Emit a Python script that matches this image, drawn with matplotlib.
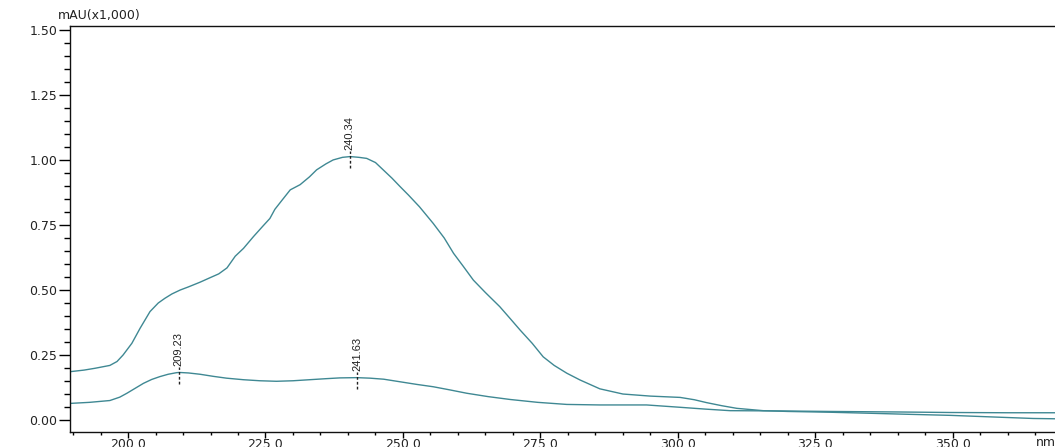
import numpy as np
import matplotlib
matplotlib.use('Agg')
import matplotlib.pyplot as plt
from matplotlib.ticker import MultipleLocator, FormatStrFormatter

# UV spectra, mAU (x1,000) vs wavelength (nm)
wl_upper = [189.5, 192, 194, 196.7, 198, 199.1, 200.7, 202.2, 204, 205.5, 206.7, 208,
            209.5, 211, 213.1, 215, 216.5, 218, 219.5, 221, 222.8, 224.5, 225.8, 226.7,
            228, 229.5, 231.3, 233, 234.3, 236, 237.3, 239, 240.4, 242, 243.4, 245,
            246.4, 248, 249.5, 251, 253, 255.5, 257.5, 259.2, 261, 262.8, 265, 267.6,
            269.5, 271.3, 273.5, 275.5, 277.5, 279.8, 282.2, 285.8, 290, 295, 300.4,
            303, 305.2, 308, 310.7, 315.5, 320, 327.6, 335, 342, 349.5, 357, 364.6, 371.5]
abs_upper = [0.186, 0.192, 0.199, 0.21, 0.225, 0.25, 0.295, 0.353, 0.417, 0.45, 0.468, 0.485,
             0.50, 0.512, 0.53, 0.548, 0.562, 0.585, 0.63, 0.66, 0.705, 0.745, 0.775, 0.81,
             0.845, 0.885, 0.905, 0.935, 0.962, 0.985, 1.0, 1.01, 1.013, 1.01, 1.006, 0.99,
             0.962, 0.93, 0.897, 0.865, 0.82, 0.756, 0.70, 0.641, 0.59, 0.538, 0.49, 0.436,
             0.39, 0.346, 0.295, 0.243, 0.21, 0.18, 0.154, 0.12, 0.10, 0.092, 0.087,
             0.078, 0.067, 0.055, 0.045, 0.036, 0.033, 0.030, 0.026, 0.022, 0.018, 0.012, 0.006, 0.004]

wl_lower = [189.5, 193, 196.7, 198.5, 199.8, 201.3, 202.8, 204.3, 205.8, 207.3, 208.8, 209.3,
            211, 213.1, 215.5, 217.9, 221, 224, 227, 230, 233, 236, 238.5, 241.6, 244,
            246.5, 249.5, 252.5, 255.5, 258.5, 261.6, 265.5, 269.5, 274.5, 279.8, 285.8,
            294.3, 300.4, 305, 309.5, 318.5, 327.6, 340, 349.5, 360, 371.5]
abs_lower = [0.064, 0.068, 0.075, 0.088, 0.103, 0.122, 0.141, 0.156, 0.167, 0.176, 0.182, 0.183,
             0.181, 0.176, 0.168, 0.161, 0.155, 0.151, 0.149, 0.151, 0.155, 0.159, 0.162, 0.163, 0.161,
             0.157, 0.147, 0.137, 0.128, 0.116, 0.103, 0.09, 0.079, 0.068, 0.060, 0.058,
             0.058, 0.049, 0.042, 0.036, 0.035, 0.033, 0.031, 0.029, 0.028, 0.028]

peaks_upper = [240.34]
peaks_lower = [209.23, 241.63]

line_color = '#3f8893'

W, H = 1055, 447
fig = plt.figure(figsize=(W / 100, H / 100), dpi=100, facecolor='w')
ax = fig.add_axes([70 / W, 15 / H, 1000 / W, 406 / H])

ax.plot(wl_upper, abs_upper, '-', color=line_color, lw=1.0)
ax.plot(wl_lower, abs_lower, '-', color=line_color, lw=1.0)

def mark_peaks(wl, ab, peaks):
    for p in peaks:
        yp = np.interp(p, wl, ab)
        ax.plot([p, p], [yp - 0.045, yp + 0.022], color='#222222', lw=1.0,
                ls=(0, (2, 1.5)))
        ax.text(p, yp + 0.024, f'{p:.2f}', rotation=90, ha='center', va='bottom',
                fontsize=8, family='Liberation Sans', color='#222222')

mark_peaks(wl_upper, abs_upper, peaks_upper)
mark_peaks(wl_lower, abs_lower, peaks_lower)

ax.set_xlim(189.45, 371.3)
ax.set_ylim(-0.046, 1.515)

ax.xaxis.set_minor_locator(MultipleLocator(5))
ax.yaxis.set_minor_locator(MultipleLocator(0.05))
ax.xaxis.set_major_formatter(FormatStrFormatter('%.1f'))
ax.yaxis.set_major_formatter(FormatStrFormatter('%.2f'))
ax.set_xticks(np.arange(200, 351, 25))
ax.set_yticks(np.arange(0, 1.51, 0.25))

ax.tick_params(axis='y', which='major', direction='out', length=8, width=1, pad=1,
               labelsize=9, labelcolor='#222222')
ax.tick_params(axis='y', which='minor', direction='out', length=4.3, width=1)
ax.tick_params(axis='x', which='major', direction='out', length=4, width=1, pad=0.5,
               labelsize=9, labelcolor='#222222')
ax.tick_params(axis='x', which='minor', direction='out', length=2, width=1)
for lbl in ax.get_xticklabels() + ax.get_yticklabels():
    lbl.set_family('DejaVu Sans')

for s in ['left', 'bottom', 'top']:
    ax.spines[s].set_color('#111111')
    ax.spines[s].set_linewidth(1.0)
ax.spines['right'].set_visible(False)

fig.text(58 / W, 1 - 16 / H, 'mAU(x1,000)', fontsize=9, family='DejaVu Sans',
         ha='left', va='center', color='#222222')
fig.text(1036 / W, 1 - 443 / H, 'nm', fontsize=9, family='DejaVu Sans',
         ha='left', va='center', color='#222222')

fig.savefig('out.png', dpi=100, facecolor='w')
